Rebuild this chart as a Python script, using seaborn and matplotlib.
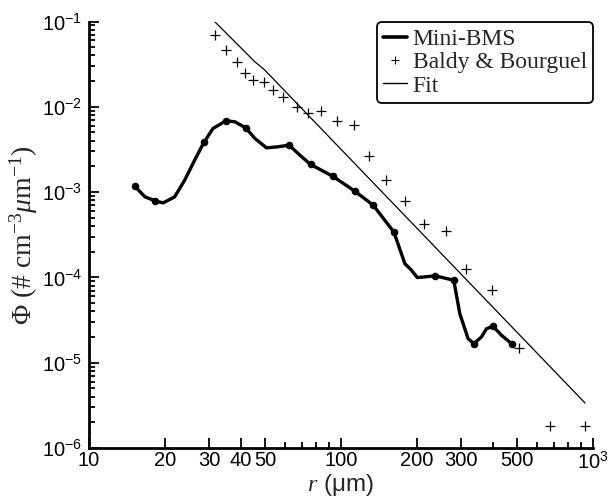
import numpy as np
import pandas as pd
import matplotlib
matplotlib.use("Agg")
import matplotlib.pyplot as plt
import seaborn as sns
from matplotlib.lines import Line2D
from matplotlib import font_manager
from matplotlib.ticker import FixedLocator, FixedFormatter, LogLocator, NullFormatter

# ---- data ----
mini_r = [15.2, 16.7, 18.3, 19.7, 21.9, 24.0, 26.3, 28.6, 31.1, 35.0, 38.0, 41.9, 45.6, 50.7,
          56.4, 62.3, 68.8, 75.8, 92.7, 113.4, 134.4, 162.3, 179.5, 190.8, 201.1, 237.5,
          280.7, 296.6, 320.0, 337.1, 361.6, 378.6, 402.0, 434.3, 475.8]
mini_phi = [1.17e-3, 8.79e-4, 7.9e-4, 7.46e-4, 8.79e-4, 1.38e-3, 2.37e-3, 3.82e-3, 5.58e-3,
            6.86e-3, 6.67e-3, 5.67e-3, 4.26e-3, 3.30e-3, 3.40e-3, 3.55e-3, 2.71e-3, 2.11e-3,
            1.54e-3, 1.03e-3, 7.02e-4, 3.41e-4, 1.45e-4, 1.21e-4, 9.95e-5, 1.04e-4, 9.25e-5,
            3.76e-5, 1.91e-5, 1.67e-5, 2.0e-5, 2.5e-5, 2.67e-5, 2.09e-5, 1.67e-5]
dot_r = [15.2, 18.3, 28.6, 35.0, 41.9, 62.3, 75.8, 92.7, 113.4, 134.4, 162.3, 237.5, 280.7,
         337.1, 402.0, 475.8]
dot_phi = [1.17e-3, 7.9e-4, 3.82e-3, 6.86e-3, 5.67e-3, 3.55e-3, 2.11e-3, 1.54e-3, 1.03e-3,
           7.02e-4, 3.41e-4, 1.04e-4, 9.25e-5, 1.67e-5, 2.67e-5, 1.67e-5]
bb_r = [31.6, 35.0, 38.6, 41.7, 44.9, 49.5, 53.9, 59.0, 66.7, 74.2, 83.8, 96.2, 112.6, 129.2,
        150.9, 179.5, 214.1, 260.3, 315.3, 397.4, 510.0, 679.0, 932.0]
bb_phi = [6.95e-2, 4.63e-2, 3.37e-2, 2.47e-2, 2.06e-2, 1.93e-2, 1.57e-2, 1.29e-2, 1.0e-2,
          8.37e-3, 8.98e-3, 6.86e-3, 6.10e-3, 2.66e-3, 1.38e-3, 7.93e-4, 4.17e-4, 3.48e-4,
          1.24e-4, 7.2e-5, 1.48e-5, 1.82e-6, 1.82e-6]
fit_r = [31.6, 45.6, 49.9, 932.0]
fit_phi = [9.95e-2, 3.37e-2, 2.70e-2, 3.36e-6]

x_ticks = [10, 20, 30, 40, 50, 100, 200, 300, 500, 1000]
x_labels = ["10", "20", "30", "40", "50", "100", "200", "300", "500", r"$\mathsf{10^{3}}$"]
y_ticks = [1e-6, 1e-5, 1e-4, 1e-3, 1e-2, 1e-1]
y_labels = [r"$\mathsf{10^{-6}}$", r"$\mathsf{10^{-5}}$", r"$\mathsf{10^{-4}}$",
            r"$\mathsf{10^{-3}}$", r"$\mathsf{10^{-2}}$", r"$\mathsf{10^{-1}}$"]

available = {f.name for f in font_manager.fontManager.ttflist}
tick_font = "Liberation Sans Narrow" if "Liberation Sans Narrow" in available else "Liberation Sans"

sns.set_style("ticks")
plt.rcParams["font.family"] = [tick_font, "DejaVu Sans"]
plt.rcParams["mathtext.fontset"] = "custom"
plt.rcParams["mathtext.rm"] = "Liberation Serif"
plt.rcParams["mathtext.it"] = "Liberation Serif:italic"
plt.rcParams["mathtext.sf"] = tick_font

fig = plt.figure(figsize=(6.13, 5.01), dpi=100)
ax = fig.add_axes([0.145, 0.106, 0.822, 0.851])

mini_df = pd.DataFrame({"r": mini_r, "phi": mini_phi})
dot_df = pd.DataFrame({"r": dot_r, "phi": dot_phi})
bb_df = pd.DataFrame({"r": bb_r, "phi": bb_phi})
fit_df = pd.DataFrame({"r": fit_r, "phi": fit_phi})

sns.lineplot(data=fit_df, x="r", y="phi", sort=False, color="black", lw=0.9, ax=ax)
sns.lineplot(data=mini_df, x="r", y="phi", sort=False, color="black", lw=2.4, ax=ax)
sns.scatterplot(data=dot_df, x="r", y="phi", color="black", s=30, marker="o",
                edgecolor="black", linewidth=0, ax=ax)
sns.scatterplot(data=bb_df, x="r", y="phi", color="black", s=60, marker="+",
                linewidth=0.9, ax=ax)

ax.set_xscale("log")
ax.set_yscale("log")
ax.set_xlim(10, 1000)
ax.set_ylim(1e-6, 1e-1)

ax.xaxis.set_major_locator(FixedLocator(x_ticks))
ax.xaxis.set_major_formatter(FixedFormatter(x_labels))
ax.xaxis.set_minor_locator(FixedLocator([60, 70, 80, 90, 400, 600, 700, 800, 900]))
ax.xaxis.set_minor_formatter(NullFormatter())
ax.yaxis.set_major_locator(FixedLocator(y_ticks))
ax.yaxis.set_major_formatter(FixedFormatter(y_labels))
ax.yaxis.set_minor_locator(LogLocator(base=10, subs=np.arange(2, 10)))
ax.yaxis.set_minor_formatter(NullFormatter())

ax.tick_params(which="both", direction="in", width=1.3, labelsize=14.5, colors="black")
ax.tick_params(which="major", length=7, pad=5)
ax.tick_params(axis="x", which="major", pad=2.5)
ax.tick_params(which="minor", length=4)
for s in ["top", "right"]:
    ax.spines[s].set_visible(False)
for s in ["left", "bottom"]:
    ax.spines[s].set_linewidth(2.0)
    ax.spines[s].set_color("black")

ax.set_xlabel(r"$r$ (μm)", fontsize=17.5, labelpad=-1, family="Liberation Sans")
ax.set_ylabel(r"$\Phi$ (# cm$^{-3}$$\mu$m$^{-1}$)", fontsize=20, labelpad=1,
              family="Liberation Serif")

handles = [Line2D([], [], color="black", lw=2.6),
           Line2D([], [], color="black", lw=0, marker="+", markersize=6, mew=0.8),
           Line2D([], [], color="black", lw=1.0)]
leg = ax.legend(handles, ["Mini-BMS", "Baldy & Bourguel", "Fit"], loc="upper right",
                bbox_to_anchor=(1.0, 0.998), frameon=True, fancybox=True, framealpha=1,
                edgecolor="black", handlelength=1.0, handletextpad=0.25, labelspacing=0.08,
                borderpad=0.25, borderaxespad=0.0, prop={"family": "Liberation Serif", "size": 17})
leg.get_frame().set_linewidth(1.3)

fig.savefig("out.png", dpi=100)
